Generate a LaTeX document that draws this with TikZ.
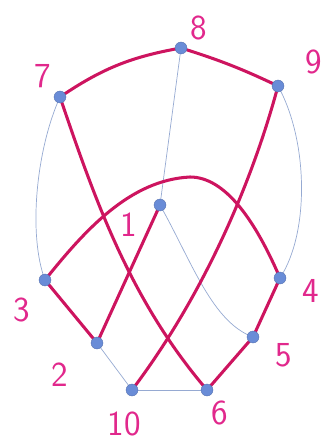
\documentclass[tikz,border=0pt]{standalone}
\usepackage{tikz}
\usepackage{xcolor}
\usetikzlibrary{
    arrows.meta,
    positioning,
    calc
}
\definecolor{penRed} {RGB}{205, 20, 95}
\definecolor{penPink}{RGB}{225, 40,140}
\definecolor{dotBlue}{RGB}{105,140,215}
\definecolor{penBlue}{RGB}{150,170,210}
\tikzset{
  vert/.style    = {circle, fill=dotBlue, draw=dotBlue!80!black,
                    line width=0.3pt, inner sep=0pt, minimum size=3.6mm},
  hot/.style     = {penRed, line width=2.6pt, line cap=round},
  cold/.style    = {penBlue, line width=0.6pt},
  lbl/.style     = {text=penPink, font=\sffamily\fontsize{30}{32}\selectfont}
}

\begin{document}
\begin{tikzpicture}[x=0.3mm, y=-0.3mm]

  \useasboundingbox (0,0) rectangle (326,448);

  %% ── Vertices ──────────────────────────────────────────────────
  \coordinate (p1)  at (160,205);
  \coordinate (p2)  at ( 97,343);
  \coordinate (p3)  at ( 45,280);
  \coordinate (p4)  at (280,278);
  \coordinate (p5)  at (253,337);
  \coordinate (p6)  at (207,390);
  \coordinate (p7)  at ( 60, 97);
  \coordinate (p8)  at (181, 48);
  \coordinate (p9)  at (278, 86);
  \coordinate (p10) at (132,390);
  \coordinate (top) at (190,177);   % crest of the 3--4 arc

  %% ── Thin (blue) edges ─────────────────────────────────────────
  \draw[cold] (p8) -- (p1);
  \draw[cold] (p7) .. controls (36,150) and (28,235) .. (p3);
  \draw[cold] (p9) .. controls (308,140) and (310,232) .. (p4);
  \draw[cold] (p1) .. controls (192,262) and (212,322) .. (p5);
  \draw[cold] (p2) -- (p10);
  \draw[cold] (p10) -- (p6);

  %% ── Thick (red) path 1 -> 10 ──────────────────────────────────
  \draw[hot] (p1) -- (p2);
  \draw[hot] (p2) -- (p3);
  \draw[hot] (p3) .. controls (85,230) and (130,180) .. (top)
                  .. controls (225,177) and (255,220) .. (p4);
  \draw[hot] (p4) -- (p5);
  \draw[hot] (p5) -- (p6);
  \draw[hot] (p6) .. controls (130,300) and (95,200) .. (p7);
  \draw[hot] (p7) to[bend left=12] (p8);
  \draw[hot] (p8) to[bend left=4] (p9);
  \draw[hot] (p9) .. controls (250,190) and (200,300) .. (p10);

  %% ── Dots ──────────────────────────────────────────────────────
  \foreach \i in {1,...,10}
    \node[vert] (v\i) at (p\i) {};

  %% ── Labels ────────────────────────────────────────────────────
  \node[lbl] (l1)  at (129,225) {1};
  \node[lbl] (l2)  at ( 60,375) {2};
  \node[lbl] (l3)  at ( 22,310) {3};
  \node[lbl] (l4)  at (311,291) {4};
  \node[lbl] (l5)  at (284,355) {5};
  \node[lbl] (l6)  at (220,413) {6};
  \node[lbl] (l7)  at ( 43, 76) {7};
  \node[lbl] (l8)  at (199, 28) {8};
  \node[lbl] (l9)  at (314, 62) {9};
  \node[lbl] (l10) at (124,424) {10};

\end{tikzpicture}
\end{document}
